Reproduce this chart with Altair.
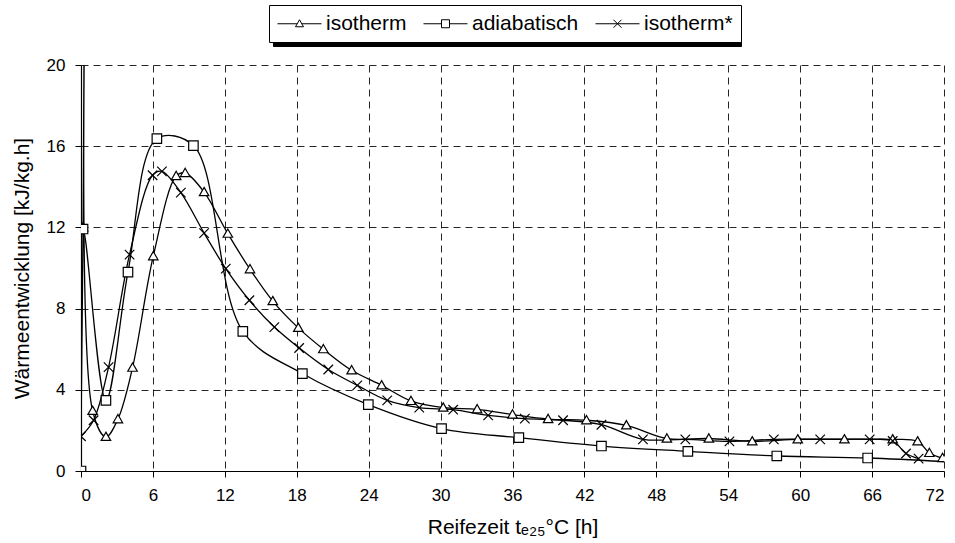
import altair as alt
import pandas as pd

# Reifezeit [h] and Wärmeentwicklung [kJ/kg.h] per series; mark = 1 where a marker is drawn
iso_t = [0.0, 0.17, 0.4, 0.97, 2.08, 3.08, 4.3, 6.03, 7.94, 8.69, 10.27, 12.25, 14.1, 16.0,
         18.13, 20.22, 22.58, 25.08, 27.53, 30.22, 33.05, 36.0, 38.97, 42.17, 45.5, 48.88,
         52.38, 56.0, 59.8, 63.69, 67.72, 69.8, 70.78, 71.88]
iso_q = [1.8, 12.0, 30.0, 2.96, 1.68, 2.55, 5.09, 10.58, 14.53, 14.68, 13.74, 11.69, 9.94, 8.37,
         7.05, 6.0, 4.96, 4.22, 3.45, 3.12, 3.04, 2.78, 2.56, 2.5, 2.25, 1.6,
         1.6, 1.46, 1.56, 1.56, 1.56, 1.46, 0.89, 0.64]
iso_mark = [0] + [1] * 33

adi_t = [0.0, 0.17, 2.08, 3.92, 6.33, 9.38, 13.5, 18.47, 23.97, 30.08, 36.53, 43.42,
         50.63, 58.05, 65.63, 73.5]
adi_q = [0.0, 11.92, 3.48, 9.8, 16.37, 16.03, 6.88, 4.8, 3.27, 2.09, 1.64, 1.23,
         0.97, 0.74, 0.64, 0.42]
adi_mark = [1] * 16

iso2_t = [0.0, 1.05, 2.3, 4.05, 5.97, 6.75, 8.33, 10.27, 12.08, 14.05, 16.13, 18.2, 20.63,
          23.05, 25.55, 28.22, 31.05, 33.97, 37.03, 40.22, 43.42, 46.88, 50.42, 54.1, 57.8,
          61.67, 65.8, 67.72, 68.83, 69.88]
iso2_q = [1.71, 2.5, 5.12, 10.66, 14.57, 14.76, 13.71, 11.72, 9.97, 8.41, 7.09, 6.06, 5.0,
          4.22, 3.48, 3.12, 3.02, 2.74, 2.58, 2.5, 2.28, 1.56, 1.56, 1.46, 1.56,
          1.56, 1.56, 1.48, 0.86, 0.61]
iso2_mark = [1] * 30

series_names = ["isotherm", "adiabatisch", "isotherm*"]
x_ticks = list(range(0, 73, 6))
y_ticks = list(range(0, 21, 4))

rows = []
for k, (name, ts, qs, ms) in enumerate([("isotherm", iso_t, iso_q, iso_mark),
                                        ("adiabatisch", adi_t, adi_q, adi_mark),
                                        ("isotherm*", iso2_t, iso2_q, iso2_mark)]):
    for i, (t, q, m) in enumerate(zip(ts, qs, ms)):
        rows.append({"serie": name, "kurve": k, "schatten": k,
                     "t": t, "q": q, "order": i, "mark": m})
df = pd.DataFrame(rows)

FONT = "Liberation Sans"

# marker outlines in unit coordinates
TRI = "M0,-1L1,0.75L-1,0.75Z"
SQR = "M-1,-1H1V1H-1Z"
XCR = "M-1,-1L1,1M-1,1L1,-1"

# legend symbols: a short line with the marker in its middle
leg_tri = "M-5.5,0L-0.6,0M0.6,0L5.5,0" + TRI
leg_sqr = "M-5.5,0L-1,0M1,0L5.5,0" + SQR
leg_x = "M-5.5,0L5.5,0" + XCR

shape_expr = (
    f"datum.value === 'isotherm' ? '{leg_tri}' : "
    f"datum.value === 'adiabatisch' ? '{leg_sqr}' : '{leg_x}'"
)
name_expr = "[" + ",".join(f"'{n}'" for n in series_names) + "][datum.value]"

LEG_X, LEG_Y = 188, -60
legend_common = dict(
    title=None, orient="none", direction="horizontal", padding=8,
    labelFont=FONT, labelFontSize=21, symbolSize=64, symbolOffset=12,
    labelOffset=16, columnPadding=14,
)

x_enc = alt.X("t:Q", scale=alt.Scale(domain=[0, 72], nice=False),
              axis=alt.Axis(values=x_ticks, title="Reifezeit tₑ₂₅°C [h]"))
y_enc = alt.Y("q:Q", scale=alt.Scale(domain=[0, 20], nice=False),
              axis=alt.Axis(values=y_ticks, title="Wärmeentwicklung [kJ/kg.h]"))

lines = alt.Chart(df).mark_line(
    interpolate="catmull-rom", strokeWidth=1.3, clip=True
).encode(
    x=x_enc, y=y_enc, order="order:Q",
    color=alt.Color(
        "serie:N",
        scale=alt.Scale(domain=series_names, range=["black", "black", "black"]),
        legend=alt.Legend(
            legendX=LEG_X, legendY=LEG_Y, zindex=2,
            strokeColor="black", fillColor="white", labelColor="black",
            symbolType={"expr": shape_expr},
            symbolStrokeColor="black", symbolFillColor="white", symbolStrokeWidth=1,
            **legend_common,
        ),
    ),
)

markers = alt.Chart(df).transform_filter("datum.mark == 1").mark_point(
    filled=True, fill="white", stroke="black", strokeWidth=1.2, size=90, opacity=1, clip=True
).encode(
    x="t:Q", y="q:Q",
    shape=alt.Shape("kurve:N",
                    scale=alt.Scale(domain=[0, 1, 2], range=[TRI, SQR, XCR]),
                    legend=None),
    # drop shadow behind the legend box: same entries, all black, labels hidden
    strokeWidth=alt.StrokeWidth(
        "schatten:N",
        scale=alt.Scale(domain=[2, 1, 0], range=[1.2, 1.2, 1.2]),
        legend=alt.Legend(
            legendX=LEG_X + 4, legendY=LEG_Y + 4, zindex=1,
            strokeColor="black", fillColor="black", labelColor="black",
            labelOpacity=0, labelExpr=name_expr,
            symbolType="square", symbolStrokeColor="black", symbolFillColor="black",
            **legend_common,
        ),
    ),
)

chart = alt.layer(lines, markers).properties(
    width=863, height=406,
    autosize=alt.AutoSizeParams(type="none"),
    padding={"left": 81, "top": 65, "right": 11, "bottom": 72},
    background="white",
).configure_view(stroke=None).configure_axis(
    domainColor="black", domainWidth=1.2, tickColor="black", tickSize=6,
    grid=True, gridColor="black", gridDash=[7, 5], gridWidth=1, gridOpacity=0.85,
    labelFont=FONT, labelFontSize=17, labelColor="black",
    titleFont=FONT, titleColor="black", titleFontWeight="normal",
).configure_axisX(labelPadding=10, titlePadding=13, titleFontSize=21).configure_axisY(
    labelPadding=10, titlePadding=14, titleFontSize=21
)

chart.save("out.html", embed_options={"renderer": "svg", "actions": False})
